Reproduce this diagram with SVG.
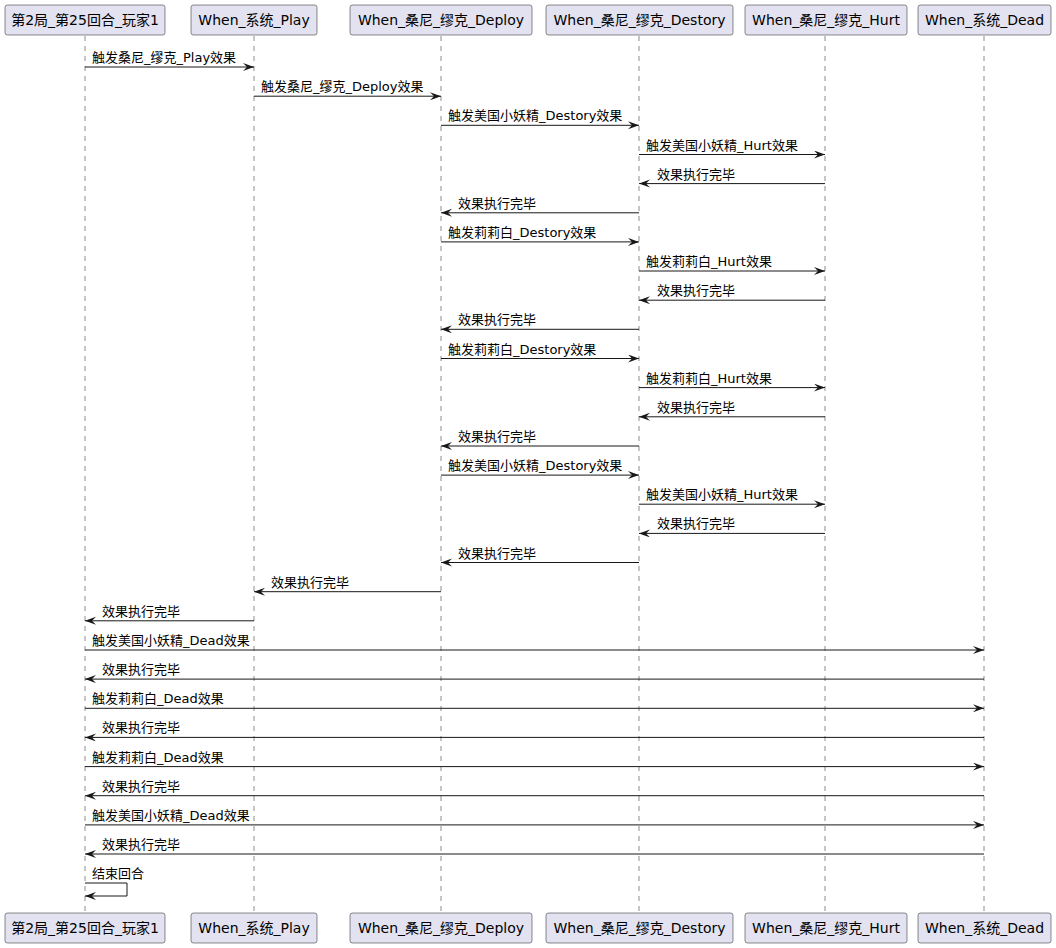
<svg xmlns="http://www.w3.org/2000/svg" width="1056" height="948" viewBox="0 0 1056 948">
<style>
text{font-family:"DejaVu Sans","Noto Sans CJK SC",sans-serif;fill:#000}
.pb{fill:#E2E2F0;stroke:#181818;stroke-width:0.5}
.pt{font-size:14px;text-anchor:middle}
.life{stroke:#181818;stroke-width:0.5;stroke-dasharray:5,5}
.m{stroke:#181818;stroke-width:1;fill:none;marker-end:url(#ah)}
.ml{font-size:13px}
</style>
<defs>
<marker id="ah" markerUnits="userSpaceOnUse" markerWidth="12" markerHeight="10" refX="11" refY="4" orient="auto" viewBox="0 0 12 10">
<path d="M0,0 L11,4 L0,8 L4,4 Z" fill="#181818"/>
</marker>
</defs>
<rect width="1056" height="948" fill="#fff"/>
<g id="lifelines">
<line class="life" x1="85" y1="36" x2="85" y2="913"/>
<line class="life" x1="254" y1="36" x2="254" y2="913"/>
<line class="life" x1="441" y1="36" x2="441" y2="913"/>
<line class="life" x1="639" y1="36" x2="639" y2="913"/>
<line class="life" x1="825" y1="36" x2="825" y2="913"/>
<line class="life" x1="984" y1="36" x2="984" y2="913"/>
</g>
<g id="p1">
<rect class="pb" x="5" y="5" width="160" height="30" rx="2.5"/><text class="pt" x="85" y="25">第2局_第25回合_玩家1</text>
<rect class="pb" x="5" y="913" width="160" height="30" rx="2.5"/><text class="pt" x="85" y="933">第2局_第25回合_玩家1</text>
</g>
<g id="p2">
<rect class="pb" x="191" y="5" width="126" height="30" rx="2.5"/><text class="pt" x="254" y="25">When_系统_Play</text>
<rect class="pb" x="191" y="913" width="126" height="30" rx="2.5"/><text class="pt" x="254" y="933">When_系统_Play</text>
</g>
<g id="p3">
<rect class="pb" x="350" y="5" width="182" height="30" rx="2.5"/><text class="pt" x="441" y="25">When_桑尼_缪克_Deploy</text>
<rect class="pb" x="350" y="913" width="182" height="30" rx="2.5"/><text class="pt" x="441" y="933">When_桑尼_缪克_Deploy</text>
</g>
<g id="p4">
<rect class="pb" x="546" y="5" width="187" height="30" rx="2.5"/><text class="pt" x="639.5" y="25">When_桑尼_缪克_Destory</text>
<rect class="pb" x="546" y="913" width="187" height="30" rx="2.5"/><text class="pt" x="639.5" y="933">When_桑尼_缪克_Destory</text>
</g>
<g id="p5">
<rect class="pb" x="745" y="5" width="162" height="30" rx="2.5"/><text class="pt" x="826" y="25">When_桑尼_缪克_Hurt</text>
<rect class="pb" x="745" y="913" width="162" height="30" rx="2.5"/><text class="pt" x="826" y="933">When_桑尼_缪克_Hurt</text>
</g>
<g id="p6">
<rect class="pb" x="918" y="5" width="133" height="30" rx="2.5"/><text class="pt" x="984.5" y="25">When_系统_Dead</text>
<rect class="pb" x="918" y="913" width="133" height="30" rx="2.5"/><text class="pt" x="984.5" y="933">When_系统_Dead</text>
</g>
<g id="connectors">
<line class="m" x1="85" y1="67" x2="254" y2="67"/><text class="ml" x="92" y="62">触发桑尼_缪克_Play效果</text>
<line class="m" x1="254" y1="96.2" x2="441" y2="96.2"/><text class="ml" x="261" y="91.2">触发桑尼_缪克_Deploy效果</text>
<line class="m" x1="441" y1="125.3" x2="639" y2="125.3"/><text class="ml" x="448" y="120.3">触发美国小妖精_Destory效果</text>
<line class="m" x1="639" y1="154.5" x2="825" y2="154.5"/><text class="ml" x="646" y="149.5">触发美国小妖精_Hurt效果</text>
<line class="m" x1="825" y1="183.6" x2="639" y2="183.6"/><text class="ml" x="657" y="178.6">效果执行完毕</text>
<line class="m" x1="639" y1="212.8" x2="441" y2="212.8"/><text class="ml" x="458" y="207.8">效果执行完毕</text>
<line class="m" x1="441" y1="241.9" x2="639" y2="241.9"/><text class="ml" x="448" y="236.9">触发莉莉白_Destory效果</text>
<line class="m" x1="639" y1="271" x2="825" y2="271"/><text class="ml" x="646" y="266">触发莉莉白_Hurt效果</text>
<line class="m" x1="825" y1="300.2" x2="639" y2="300.2"/><text class="ml" x="657" y="295.2">效果执行完毕</text>
<line class="m" x1="639" y1="329.3" x2="441" y2="329.3"/><text class="ml" x="458" y="324.3">效果执行完毕</text>
<line class="m" x1="441" y1="358.5" x2="639" y2="358.5"/><text class="ml" x="448" y="353.5">触发莉莉白_Destory效果</text>
<line class="m" x1="639" y1="387.6" x2="825" y2="387.6"/><text class="ml" x="646" y="382.6">触发莉莉白_Hurt效果</text>
<line class="m" x1="825" y1="416.8" x2="639" y2="416.8"/><text class="ml" x="657" y="411.8">效果执行完毕</text>
<line class="m" x1="639" y1="446" x2="441" y2="446"/><text class="ml" x="458" y="441">效果执行完毕</text>
<line class="m" x1="441" y1="475.1" x2="639" y2="475.1"/><text class="ml" x="448" y="470.1">触发美国小妖精_Destory效果</text>
<line class="m" x1="639" y1="504.2" x2="825" y2="504.2"/><text class="ml" x="646" y="499.2">触发美国小妖精_Hurt效果</text>
<line class="m" x1="825" y1="533.4" x2="639" y2="533.4"/><text class="ml" x="657" y="528.4">效果执行完毕</text>
<line class="m" x1="639" y1="562.5" x2="441" y2="562.5"/><text class="ml" x="458" y="557.5">效果执行完毕</text>
<line class="m" x1="441" y1="591.7" x2="254" y2="591.7"/><text class="ml" x="271" y="586.7">效果执行完毕</text>
<line class="m" x1="254" y1="620.8" x2="85" y2="620.8"/><text class="ml" x="102" y="615.8">效果执行完毕</text>
<line class="m" x1="85" y1="650" x2="984" y2="650"/><text class="ml" x="92" y="645">触发美国小妖精_Dead效果</text>
<line class="m" x1="984" y1="679.1" x2="85" y2="679.1"/><text class="ml" x="102" y="674.1">效果执行完毕</text>
<line class="m" x1="85" y1="708.3" x2="984" y2="708.3"/><text class="ml" x="92" y="703.3">触发莉莉白_Dead效果</text>
<line class="m" x1="984" y1="737.4" x2="85" y2="737.4"/><text class="ml" x="102" y="732.4">效果执行完毕</text>
<line class="m" x1="85" y1="766.6" x2="984" y2="766.6"/><text class="ml" x="92" y="761.6">触发莉莉白_Dead效果</text>
<line class="m" x1="984" y1="795.7" x2="85" y2="795.7"/><text class="ml" x="102" y="790.7">效果执行完毕</text>
<line class="m" x1="85" y1="824.9" x2="984" y2="824.9"/><text class="ml" x="92" y="819.9">触发美国小妖精_Dead效果</text>
<line class="m" x1="984" y1="854" x2="85" y2="854"/><text class="ml" x="102" y="849">效果执行完毕</text>
<polyline class="m" points="85,883 127,883 127,896 85,896"/><text class="ml" x="92" y="878">结束回合</text>
</g>
</svg>
